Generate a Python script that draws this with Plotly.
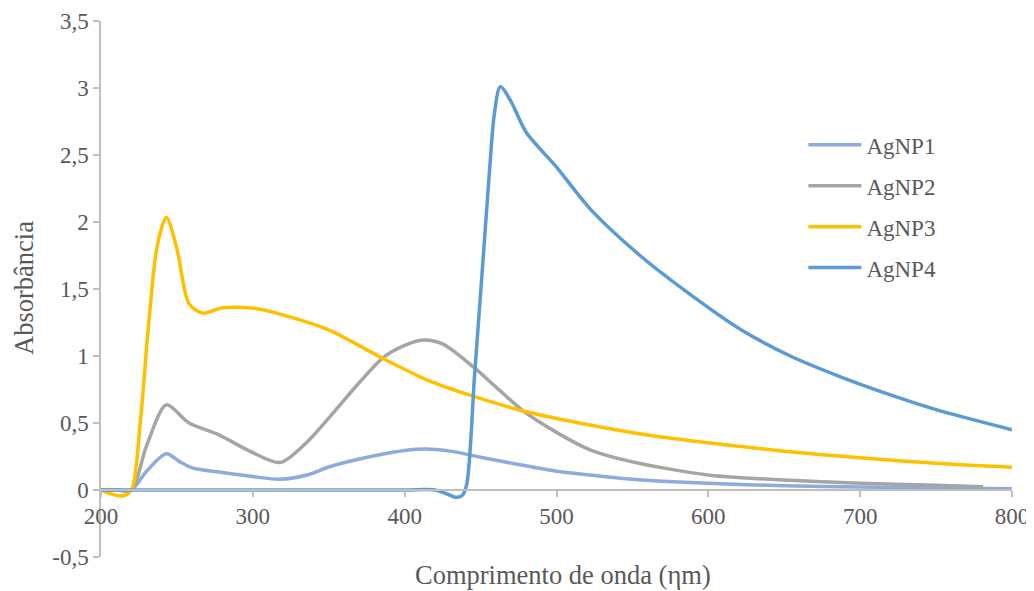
import plotly.graph_objects as go

# ---- data ----
x1 = [200, 210, 220, 230, 243, 252, 260, 280, 300, 318, 335, 351, 380, 400, 414, 430, 450, 475, 500, 522, 550, 600, 650, 700, 750, 800]
y1 = [0, 0, 0, 0.14, 0.27, 0.21, 0.165, 0.13, 0.10, 0.08, 0.11, 0.175, 0.255, 0.295, 0.306, 0.29, 0.245, 0.19, 0.14, 0.112, 0.08, 0.05, 0.032, 0.022, 0.015, 0.01]

x2 = [200, 210, 220, 230, 243, 258, 278, 298, 318, 335, 351, 370, 386, 400, 412, 425, 445, 460, 478, 500, 522, 550, 601, 650, 700, 750, 781]
y2 = [0, 0, 0, 0.33, 0.635, 0.50, 0.41, 0.29, 0.205, 0.35, 0.55, 0.80, 0.99, 1.08, 1.12, 1.09, 0.92, 0.77, 0.59, 0.43, 0.30, 0.21, 0.11, 0.075, 0.05, 0.035, 0.025]

x3 = [200, 207, 214, 220, 226, 231, 237, 243, 250, 258, 267, 280, 302, 325, 351, 386, 417, 445, 478, 522, 560, 601, 650, 700, 750, 800]
y3 = [0, -0.03, -0.045, 0, 0.52, 1.19, 1.82, 2.035, 1.80, 1.39, 1.32, 1.36, 1.355, 1.29, 1.19, 0.98, 0.81, 0.70, 0.59, 0.485, 0.41, 0.35, 0.29, 0.24, 0.20, 0.17]

x4 = [200, 300, 400, 420, 428, 434, 438, 441, 446, 451, 456, 459, 463, 470, 480, 500, 522, 555, 588, 621, 654, 687, 720, 750, 800]
y4 = [0, 0, 0, 0, -0.03, -0.055, -0.04, 0.05, 0.85, 1.62, 2.4, 2.8, 3.01, 2.9, 2.67, 2.41, 2.10, 1.75, 1.46, 1.20, 1.0, 0.845, 0.71, 0.6, 0.45]

names = ["AgNP1", "AgNP2", "AgNP3", "AgNP4"]
colors = ["#8FAADC", "#A5A5A5", "#FFC000", "#5B9BD5"]

x_ticks = [200, 300, 400, 500, 600, 700, 800]
y_ticks = [-0.5, 0, 0.5, 1, 1.5, 2, 2.5, 3, 3.5]
y_tick_text = ["-0,5", "0", "0,5", "1", "1,5", "2", "2,5", "3", "3,5"]

FONT = "Liberation Serif, Times New Roman, serif"
TXT = "#595959"
AX = "#BFBFBF"
TICK_SIZE = 23
TITLE_SIZE = 26.5

fig = go.Figure()
for i, (xs, ys) in enumerate([(x1, y1), (x2, y2), (x3, y3), (x4, y4)]):
    fig.add_trace(go.Scatter(
        x=xs, y=ys, name=names[i], mode="lines",
        line=dict(color=colors[i], width=3.5, shape="spline", smoothing=0.8),
        legendgroup=names[i],
    ))

# page has an 8px body margin: figure is placed at (8, 8)
fig.update_layout(
    width=1026, height=583,
    margin=dict(l=93, r=22, t=13, b=34, autoexpand=False),
    paper_bgcolor="white", plot_bgcolor="white",
    font=dict(family=FONT, size=TICK_SIZE, color=TXT),
    showlegend=True,
    legend=dict(x=0.771, y=0.809, xanchor="left", yanchor="top",
                font=dict(family=FONT, size=TICK_SIZE, color=TXT),
                traceorder="grouped", tracegroupgap=8,
                bgcolor="rgba(0,0,0,0)", itemwidth=53),
    xaxis=dict(range=[200, 800], tickvals=x_ticks, ticktext=[str(v) for v in x_ticks],
               showgrid=False, zeroline=False, showline=True, linecolor=AX, linewidth=1.5,
               ticks="outside", ticklen=6, tickcolor=AX, tickwidth=1.5,
               anchor="free", position=0.125, automargin=False,
               tickfont=dict(family=FONT, size=TICK_SIZE, color=TXT)),
    yaxis=dict(range=[-0.5, 3.5], tickvals=y_ticks, ticktext=y_tick_text,
               showgrid=False, zeroline=False, showline=True, linecolor=AX, linewidth=1.5,
               ticks="outside", ticklen=6, tickcolor=AX, tickwidth=1.5, automargin=False,
               tickfont=dict(family=FONT, size=TICK_SIZE, color=TXT)),
    annotations=[
        dict(text="Comprimento de onda (ηm)", xref="paper", yref="paper", x=0.507, y=0,
             yshift=-18, xanchor="center", yanchor="middle", showarrow=False,
             font=dict(family=FONT, size=TITLE_SIZE, color=TXT)),
        dict(text="Absorbância", xref="paper", yref="paper", x=0, y=0.502,
             xshift=-77, xanchor="center", yanchor="middle", textangle=-90, showarrow=False,
             font=dict(family=FONT, size=TITLE_SIZE, color=TXT)),
    ],
)

fig.write_html("out.html")
